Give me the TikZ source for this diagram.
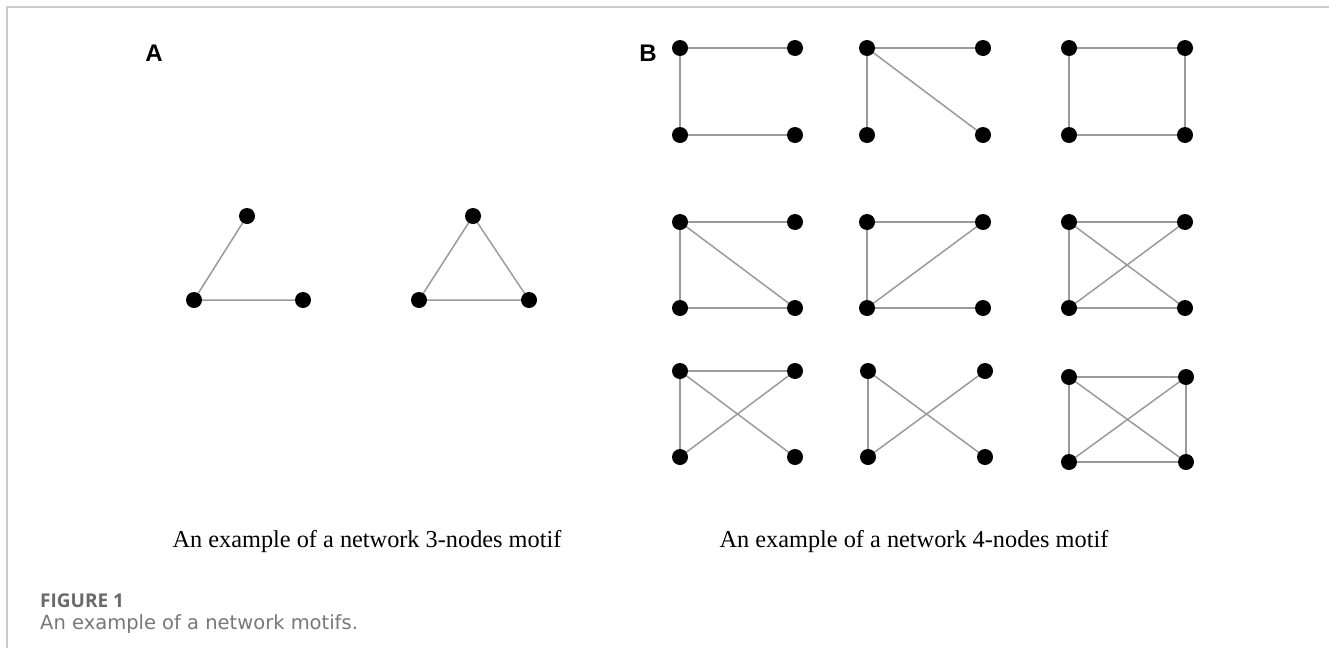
\documentclass[tikz,border=0pt]{standalone}
\usepackage{fontspec}
\setmainfont{Liberation Serif}
\newfontfamily\arialfont{Liberation Sans}
\newfontfamily\capfont{Open Sans}
\newfontfamily\captextfont{DejaVu Sans}
\usetikzlibrary{backgrounds}
\definecolor{edgegray}{HTML}{9A9A9A}
\definecolor{bordergray}{HTML}{CCCCCC}
\definecolor{capgray}{HTML}{6A6A6A}
\definecolor{captextgray}{HTML}{777777}
\tikzset{
  dot/.style={circle,fill=black,inner sep=0pt,minimum size=16pt},
  edge/.style={draw=edgegray,line width=1.5pt},
  border/.style={draw=bordergray,line width=1.5pt},
  panel/.style={font=\arialfont\bfseries\fontsize{24}{28}\selectfont,anchor=base,inner sep=0pt},
  subcap/.style={font=\fontsize{24.3}{28}\selectfont,anchor=base,inner sep=0pt},
  figcap/.style={text=capgray,anchor=base west,inner sep=0pt}
}
\newcommand{\fournodes}[5]{%
  % #1 prefix, #2 left x, #3 right x, #4 top y, #5 bottom y
  \node[dot] (#1tl) at (#2,#4) {};
  \node[dot] (#1tr) at (#3,#4) {};
  \node[dot] (#1bl) at (#2,#5) {};
  \node[dot] (#1br) at (#3,#5) {};
}
\begin{document}
\begin{tikzpicture}[x=1pt,y=-1pt]
\useasboundingbox (0,0) rectangle (1329,648);
\draw[border] (7,648) -- (7,7) -- (1329,7);

% labels
\node[panel] (labA) at (154,61) {A};
\node[panel] (labB) at (648,61) {B};

% panel A
\node[dot] (p1t) at (247,216) {};
\node[dot] (p1l) at (194,300) {};
\node[dot] (p1r) at (303,300) {};
\node[dot] (p2t) at (473,216) {};
\node[dot] (p2l) at (419,300) {};
\node[dot] (p2r) at (529,300) {};

% panel B
\fournodes{a}{680}{795}{48}{135}
\fournodes{b}{867}{983}{48}{135}
\fournodes{c}{1069}{1185}{48}{135}
\fournodes{d}{680}{795}{222}{308}
\fournodes{e}{867}{983}{222}{308}
\fournodes{f}{1069}{1185}{222}{308}
\fournodes{g}{680}{795}{371}{457}
\fournodes{h}{868}{985}{371}{457}
\fournodes{i}{1069}{1186}{377}{462}

\begin{scope}[on background layer]
\draw[edge] (p1t.center) -- (p1l.center) -- (p1r.center);
\draw[edge] (p2t.center) -- (p2l.center) -- (p2r.center) -- (p2t.center);
% row 1
\draw[edge] (atr.center) -- (atl.center) -- (abl.center) -- (abr.center);
\draw[edge] (btr.center) -- (btl.center) -- (bbl.center);
\draw[edge] (btl.center) -- (bbr.center);
\draw[edge] (ctl.center) -- (ctr.center) -- (cbr.center) -- (cbl.center) -- (ctl.center);
% row 2
\draw[edge] (dtr.center) -- (dtl.center) -- (dbl.center) -- (dbr.center);
\draw[edge] (dtl.center) -- (dbr.center);
\draw[edge] (etr.center) -- (etl.center) -- (ebl.center) -- (ebr.center);
\draw[edge] (ebl.center) -- (etr.center);
\draw[edge] (ftr.center) -- (ftl.center) -- (fbl.center) -- (fbr.center);
\draw[edge] (ftl.center) -- (fbr.center);
\draw[edge] (fbl.center) -- (ftr.center);
% row 3
\draw[edge] (gtr.center) -- (gtl.center) -- (gbl.center);
\draw[edge] (gtl.center) -- (gbr.center);
\draw[edge] (gbl.center) -- (gtr.center);
\draw[edge] (htl.center) -- (hbl.center);
\draw[edge] (htl.center) -- (hbr.center);
\draw[edge] (hbl.center) -- (htr.center);
\draw[edge] (itl.center) -- (itr.center) -- (ibr.center) -- (ibl.center) -- (itl.center);
\draw[edge] (itl.center) -- (ibr.center);
\draw[edge] (ibl.center) -- (itr.center);
\end{scope}

% sub captions
\node[subcap] (capA) at (367,547) {An example of a network 3-nodes motif};
\node[subcap] (capB) at (914,547) {An example of a network 4-nodes motif};

% figure caption
\node[figcap,font=\capfont\bfseries\fontsize{19}{24}\selectfont] (fig) at (40,607) {FIGURE 1};
\node[figcap,text=captextgray,font=\captextfont\fontsize{19.5}{24}\selectfont] (figtext) at (40,629) {An example of a network motifs.};
\end{tikzpicture}
\end{document}
